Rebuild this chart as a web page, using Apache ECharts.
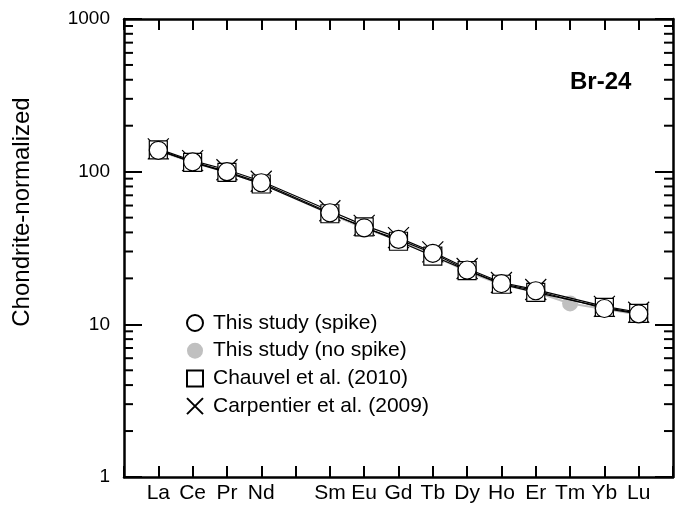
<!DOCTYPE html>
<html>
<head>
<meta charset="utf-8">
<script src="https://cdn.jsdelivr.net/npm/echarts@6/dist/echarts.min.js"></script>
<style>html,body{margin:0;padding:0;background:#fff;}#c{width:680px;height:506px;}</style>
</head>
<body>
<div id="c"></div>
<script>
// Elements (Pm present as an unlabeled gap position)
var elements = ['La','Ce','Pr','Nd','','Sm','Eu','Gd','Tb','Dy','Ho','Er','Tm','Yb','Lu'];
var spike      = [138, 116, 100, 84.6, null, 53.8, 42.9, 36.0, 29.2, 22.7, 18.5, 16.6, null, 12.7, 11.7];
var noSpike    = [137, 115, 99, 83.5, null, 53.0, 42.5, 35.5, 28.2, 22.2, 18.2, 16.3, 13.7, 12.6, 11.6];
var chauvel    = [139, 115, 99, 83.0, null, 53.0, 43.5, 35.0, 28.0, 22.5, 18.3, 16.2, null, 12.9, 11.8];
var carpentier = [141, 118, 103, 86.5, null, 55.5, 44.5, 37.0, 29.8, 23.2, 18.8, 16.9, null, 13.1, 12.0];
var yTickLabels = [1, 10, 100, 1000];
var minorTicks = [2,3,4,5,6,7,8,9,20,30,40,50,60,70,80,90,200,300,400,500,600,700,800,900];

function pairs(arr){ return arr.map(function(v,i){ return [i+1, v]; }); }

var FONT = '"Liberation Sans", Arial, sans-serif';
var xPath = 'path://M0,0L10,10M10,0L0,10';

var chart = echarts.init(document.getElementById('c'), null, {renderer:'canvas'});
var axisLineStyle = {color:'#000', width:2.5};
var option = {
  animation:false,
  backgroundColor:'#fff',
  textStyle:{fontFamily:FONT},
  grid:{left:124, right:7, top:19, bottom:29},
  title:{text:'Br-24', left:565, top:65, textStyle:{fontFamily:FONT, fontSize:24, fontWeight:'bold', color:'#000'}},
  graphic:[{type:'text', x:22, y:212, rotation:Math.PI/2,
    style:{text:'Chondrite-normalized', font:'24px "Liberation Sans", Arial, sans-serif', fill:'#000', textAlign:'center', textVerticalAlign:'middle'}}],
  legend:{
    orient:'vertical', left:181, top:307, itemWidth:16, itemHeight:16, itemGap:5.7,
    textStyle:{fontFamily:FONT, fontSize:21, color:'#000', padding:[0,0,0,5], lineHeight:22},
    data:[
      {name:'This study (spike)', icon:'circle'},
      {name:'This study (no spike)', icon:'circle'},
      {name:'Chauvel et al. (2010)', icon:'rect'},
      {name:'Carpentier et al. (2009)', icon:xPath}
    ]
  },
  xAxis:[
    {type:'value', position:'bottom', min:0, max:16, interval:1,
     axisLine:{onZero:false, lineStyle:axisLineStyle}, splitLine:{show:false},
     axisTick:{inside:true, length:11, lineStyle:{width:2, color:'#000'}},
     axisLabel:{margin:6, fontSize:21, color:'#000', fontFamily:FONT,
       formatter:function(v){ return (v>=1 && v<=elements.length) ? elements[v-1] : ''; }}},
    {type:'value', position:'top', min:0, max:16, interval:1,
     axisLine:{onZero:false, lineStyle:axisLineStyle}, splitLine:{show:false},
     axisTick:{inside:true, length:11, lineStyle:{width:2, color:'#000'}},
     axisLabel:{show:false}}
  ],
  yAxis:[
    {type:'log', logBase:10, min:1, max:1000, position:'left',
     axisLine:{show:true, onZero:false, lineStyle:axisLineStyle}, splitLine:{show:false},
     axisTick:{inside:true, length:18, lineStyle:{width:2, color:'#000'}},
     axisLabel:{margin:14, fontSize:19, color:'#000', fontFamily:FONT,
       formatter:function(v){ return yTickLabels.indexOf(Math.round(v))>=0 ? String(Math.round(v)) : ''; }}},
    {type:'log', logBase:10, min:1, max:1000, position:'right',
     axisLine:{show:true, onZero:false, lineStyle:axisLineStyle}, splitLine:{show:false},
     axisTick:{inside:true, length:18, lineStyle:{width:2, color:'#000'}},
     axisLabel:{show:false}}
  ],
  series:[
    {type:'custom', name:'minor', silent:true, xAxisIndex:0, yAxisIndex:0, clip:false, z:1,
     data:minorTicks.map(function(v){ return [0, v]; }),
     renderItem:function(params, api){
       var pL = api.coord([0, api.value(1)]);
       var pR = api.coord([16, api.value(1)]);
       return {type:'group', children:[
         {type:'line', shape:{x1:pL[0], y1:pL[1], x2:pL[0]+9, y2:pL[1]}, style:{stroke:'#000', lineWidth:2}},
         {type:'line', shape:{x1:pR[0], y1:pR[1], x2:pR[0]-9, y2:pR[1]}, style:{stroke:'#000', lineWidth:2}}
       ]};
     }},
    {type:'line', name:'This study (no spike)', data:pairs(noSpike), connectNulls:true, z:2,
     symbol:'circle', symbolSize:16, lineStyle:{color:'#c0c0c0', width:2},
     itemStyle:{color:'#c0c0c0', borderColor:'#c0c0c0', borderWidth:0}},
    {type:'line', name:'Carpentier et al. (2009)', data:pairs(carpentier), connectNulls:true, z:3,
     symbol:xPath, symbolSize:21, lineStyle:{color:'#000', width:1.2},
     itemStyle:{color:'rgba(0,0,0,0)', borderColor:'#000', borderWidth:1.2}},
    {type:'line', name:'Chauvel et al. (2010)', data:pairs(chauvel), connectNulls:true, z:4,
     symbol:'rect', symbolSize:18, lineStyle:{color:'#000', width:1.2},
     itemStyle:{color:'#fff', borderColor:'#000', borderWidth:1.2}},
    {type:'line', name:'This study (spike)', data:pairs(spike), connectNulls:true, z:5,
     symbol:'circle', symbolSize:18, lineStyle:{color:'#000', width:1.2},
     itemStyle:{color:'#fff', borderColor:'#000', borderWidth:1.2}}
  ]
};
chart.setOption(option);
</script>
</body>
</html>
